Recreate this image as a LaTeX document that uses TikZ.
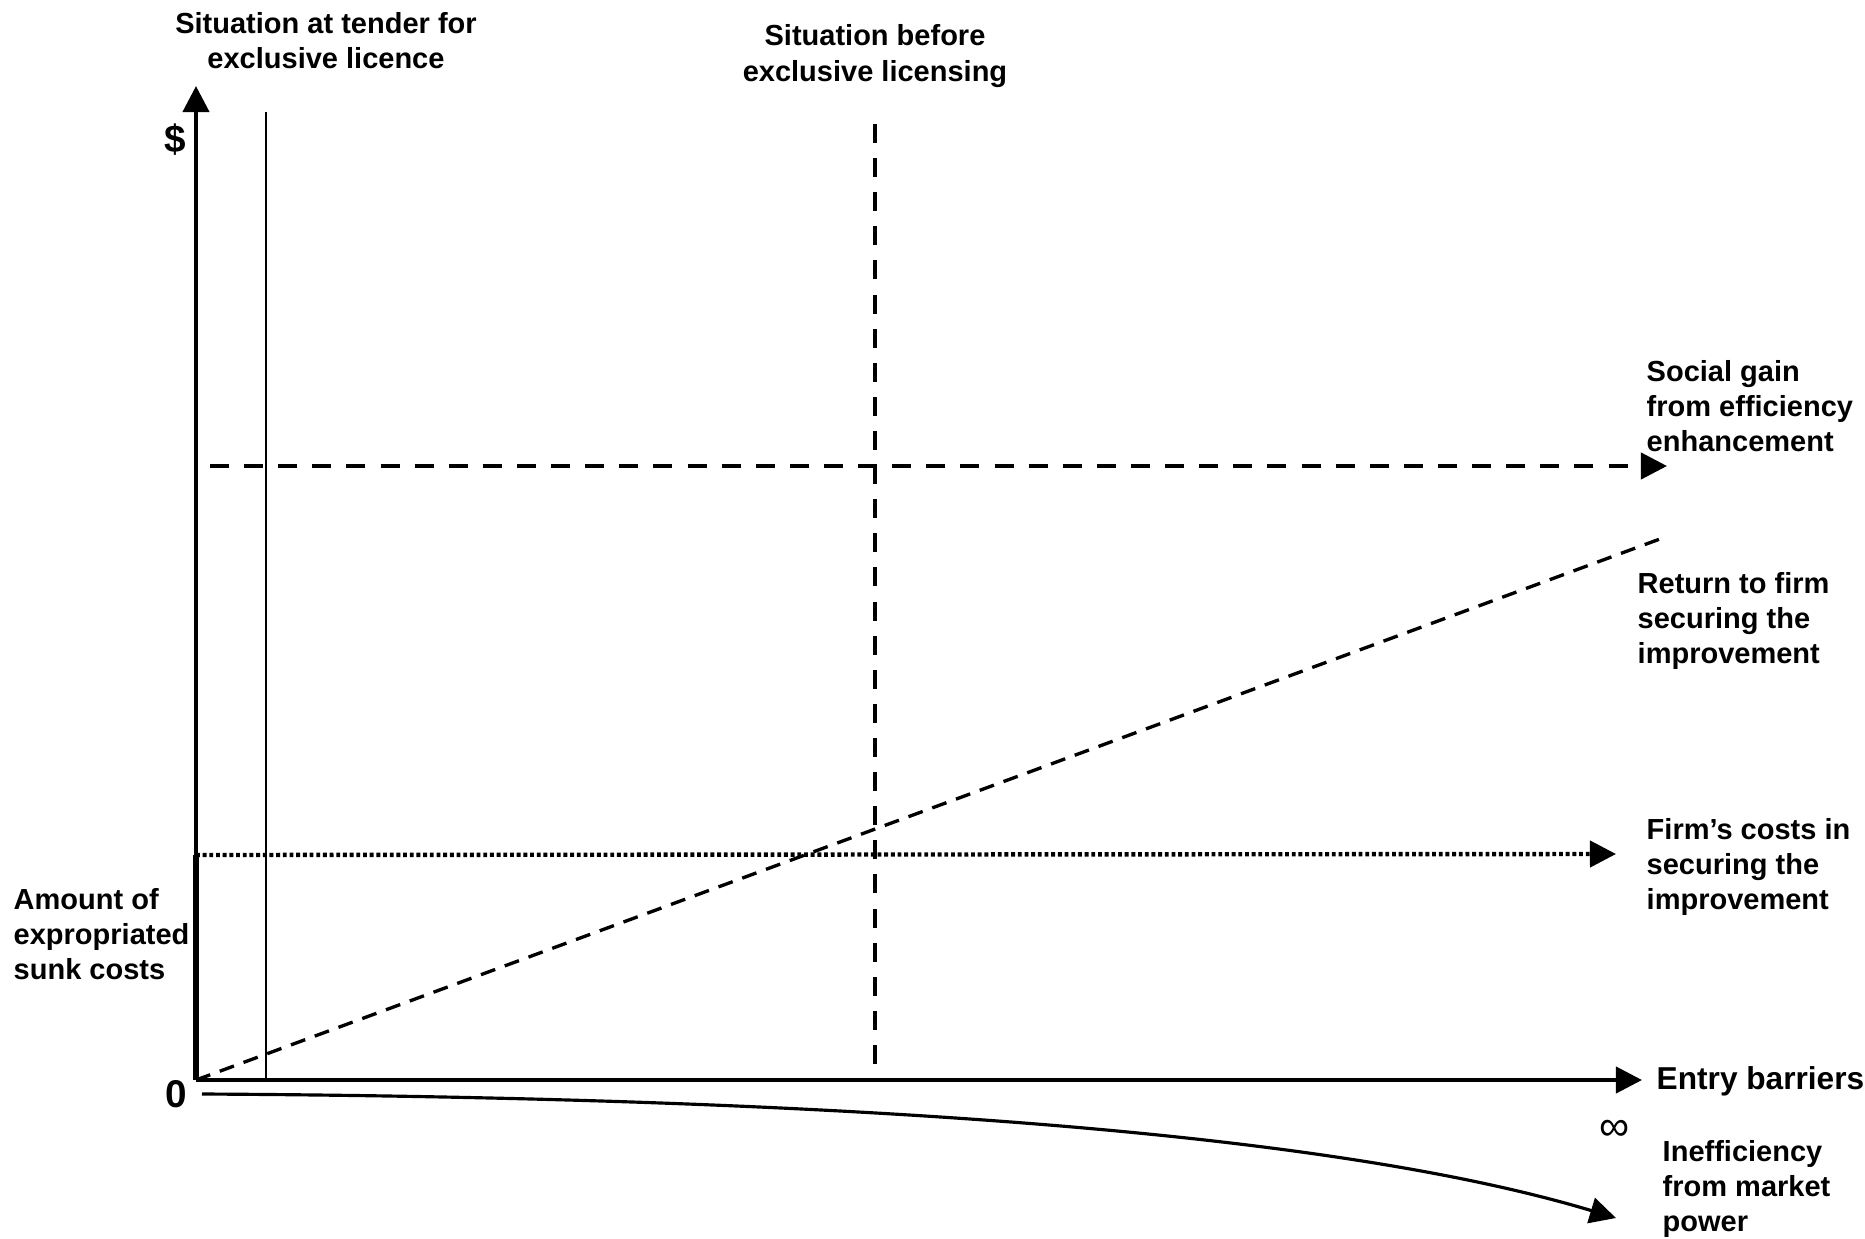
\documentclass[tikz,border=0pt]{standalone}
\usepackage{fontspec}
\setmainfont{Liberation Sans}
\usetikzlibrary{arrows.meta}
\tikzset{
  axisline/.style={line width=1.15pt, draw=black},
  sunkline/.style={line width=1.75pt, draw=black, line cap=butt},
  tenderline/.style={line width=0.7pt, draw=black},
  gainline/.style={line width=1.15pt, draw=black, dash pattern=on 5.4pt off 4.3pt},
  returnline/.style={line width=0.95pt, draw=black, dash pattern=on 4.3pt off 2.9pt},
  costline/.style={line width=1.25pt, draw=black, dash pattern=on 1.1pt off 0.8pt},
  lossline/.style={line width=0.9pt, draw=black},
  headtip/.style={-{Triangle[length=0.26cm,width=0.26cm]}},
  lbl/.style={font=\bfseries\fontsize{8.25}{10}\selectfont, inner sep=0pt, align=left},
  biglbl/.style={font=\bfseries\fontsize{11}{13}\selectfont, inner sep=0pt},
  symlbl/.style={font=\fontsize{12}{14}\selectfont, inner sep=0pt},
}
\begin{document}
\begin{tikzpicture}[x=0.01cm,y=-0.01cm]
\useasboundingbox (0,0) rectangle (1865,1239);
% axes
\coordinate (O) at (196,1080);
\coordinate (ytop) at (196,86);
\coordinate (xend) at (1642,1080);
\coordinate (sunk) at (196,855);
\draw[axisline,headtip] (O) -- (ytop);
\draw[axisline,headtip] (O) -- (xend);
\draw[sunkline] (O) -- (sunk);
% situation lines
\coordinate (tenderbot) at (266,1080);
\coordinate (tendertop) at (266,112);
\coordinate (beforebot) at (875,1064);
\coordinate (beforetop) at (875,122);
\draw[tenderline] (tenderbot) -- (tendertop);
\draw[gainline] (beforebot) -- (beforetop);
% curves
\coordinate (gainstart) at (210,466);
\coordinate (gainend) at (1667,466);
\coordinate (returnend) at (1668,536);
\coordinate (costend) at (1616,854);
\coordinate (lossstart) at (202,1094);
\coordinate (lossend) at (1616,1218);
\draw[gainline,headtip] (gainstart) -- (gainend);
\draw[returnline] (O) -- (returnend);
\draw[costline,headtip] (sunk) -- (costend);
\draw[lossline,headtip] (lossstart) .. controls (900,1098) and (1350,1138) .. (lossend);
% labels
\node[lbl,align=center] (tender) at (326,41) {Situation at tender for\\exclusive licence};
\node[lbl,align=center] (before) at (875,56) {Situation before\\exclusive licensing};
\node[biglbl] (dollar) at (175,140) {\$};
\node[biglbl] (zero) at (176,1094) {0};
\node[lbl,anchor=west] (amount) at (13,934) {Amount of\\expropriated\\sunk costs};
\node[lbl,anchor=west] (gain) at (1646,406) {Social gain\\from efficiency\\enhancement};
\node[lbl,anchor=west] (return) at (1637,621) {Return to firm\\securing the\\improvement};
\node[lbl,anchor=west] (cost) at (1646,867) {Firm’s costs in\\securing the\\improvement};
\node[lbl,anchor=west,font=\bfseries\fontsize{9}{11}\selectfont] (entry) at (1656,1081) {Entry barriers};
\node[symlbl] (infty) at (1615,1130) {∞};
\node[lbl,anchor=west] (loss) at (1662,1189) {Inefficiency\\from market\\power};
\end{tikzpicture}
\end{document}
